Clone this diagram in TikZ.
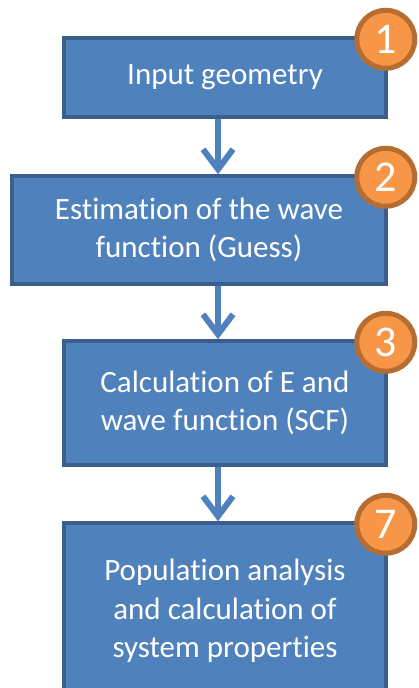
\documentclass[tikz,border=0pt]{standalone}
\usepackage{fontspec}
\setmainfont[Ligatures=NoCommon]{Carlito}
\usetikzlibrary{positioning,arrows.meta}
\definecolor{boxfill}{HTML}{4F81BD}
\definecolor{boxline}{HTML}{3A5F8C}
\definecolor{badgefill}{HTML}{F79646}
\definecolor{badgeline}{HTML}{B66D31}

\begin{document}
\begin{tikzpicture}[x=1pt, y=1pt,
  stage/.style={draw=boxline, line width=3.5pt, fill=boxfill, text=white, align=center,
    font=\fontsize{31}{38.5}\selectfont, inner sep=0pt},
  badge/.style={circle, draw=badgeline, line width=5pt, fill=badgefill, text=white,
    minimum size=58pt, inner sep=0pt, font=\fontsize{44}{44}\selectfont},
  flow/.style={draw=boxfill, line width=6pt,
    -{Straight Barb[length=20pt, width=30pt, line width=6pt]}}]
  \useasboundingbox (0,0) rectangle (418,-688);
  \node[stage, minimum width=322pt, minimum height=79pt] (geo) at (225,-77.5) {Input geometry};
  \node[stage, minimum width=374pt, minimum height=108pt] (guess) at (199,-230) {Estimation of the wave\\function (Guess)};
  \node[stage, minimum width=322pt, minimum height=124pt] (scf) at (225,-403) {Calculation of E and\\wave function (SCF)};
  \node[stage, minimum width=322pt, minimum height=176pt] (pop) at (225,-611) {Population analysis\\and calculation of\\system properties};
  % step numbers
  \node[badge] (n1) at ([shift={(-2,-3)}]geo.north east) {1};
  \node[badge] (n2) at ([shift={(-2,-3)}]guess.north east) {2};
  \node[badge] (n3) at ([shift={(-2,-3)}]scf.north east) {3};
  \node[badge] (n7) at ([shift={(-2,-3)}]pop.north east) {7};
  % arrows
  \coordinate (ax) at (218,0);
  \draw[flow] (geo.south -| ax) -- (guess.north -| ax);
  \draw[flow] (guess.south -| ax) -- (scf.north -| ax);
  \draw[flow] (scf.south -| ax) -- (pop.north -| ax);
\end{tikzpicture}
\end{document}
